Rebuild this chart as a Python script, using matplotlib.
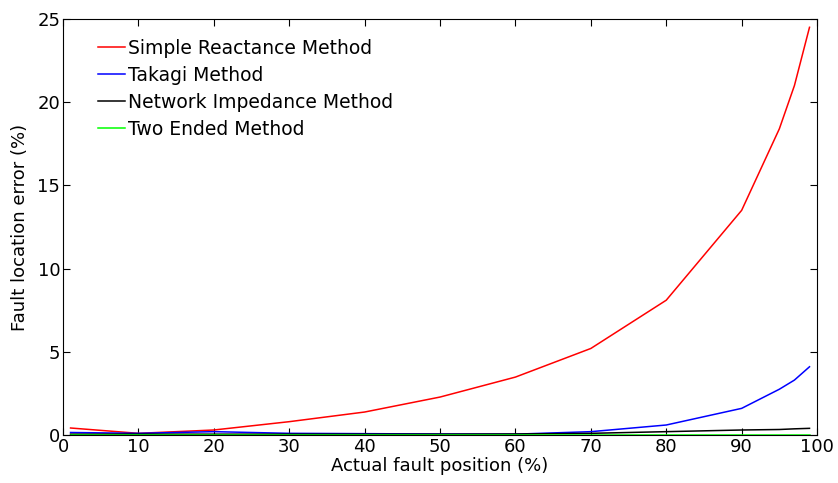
import numpy as np
import matplotlib.pyplot as plt

plt.rcParams['font.family'] = ['DejaVu Sans']

# fault position (%) and location error (%) for each method
position = [1, 10, 20, 30, 40, 50, 60, 70, 80, 90, 95, 97, 99]
simple_reactance = [0.42, 0.1, 0.3, 0.8, 1.38, 2.28, 3.48, 5.2, 8.1, 13.5, 18.4, 21.0, 24.5]
takagi = [0.15, 0.1, 0.2, 0.1, 0.08, 0.06, 0.05, 0.2, 0.6, 1.6, 2.75, 3.3, 4.1]
network_impedance = [0.05, 0.05, 0.05, 0.05, 0.05, 0.05, 0.06, 0.1, 0.2, 0.3, 0.33, 0.37, 0.4]
two_ended = [0.02, 0.02, 0.02, 0.02, 0.02, 0.02, 0.02, 0.02, 0.02, 0.02, 0.02, 0.02, 0.02]

fig = plt.figure(figsize=(8.38, 4.83), dpi=100)
ax = fig.add_axes([0.0752, 0.0994, 0.8998, 0.8613])

ax.plot(position, simple_reactance, color='red', lw=1.1, label='Simple Reactance Method')
ax.plot(position, takagi, color='blue', lw=1.1, label='Takagi Method')
ax.plot(position, network_impedance, color='black', lw=1.1, label='Network Impedance Method')
ax.plot(position, two_ended, color='#00ff00', lw=1.1, label='Two Ended Method')

ax.set_xlim(0, 100)
ax.set_ylim(0, 25)
ax.set_xticks(np.arange(0, 101, 10))
ax.set_yticks(np.arange(0, 26, 5))
ax.tick_params(direction='in', top=True, right=True, labelsize=13, length=5, pad=2)
ax.set_xlabel('Actual fault position (%)', fontsize=13, labelpad=1)
ax.set_ylabel('Fault location error (%)', fontsize=13, labelpad=6)

ax.legend(loc='upper left', frameon=False, fontsize=13.5, handlelength=1.45,
          handletextpad=0.15, labelspacing=0.42, borderpad=0, borderaxespad=0,
          bbox_to_anchor=(0.046, 0.952))

fig.savefig('out.png', dpi=100, facecolor='white')
